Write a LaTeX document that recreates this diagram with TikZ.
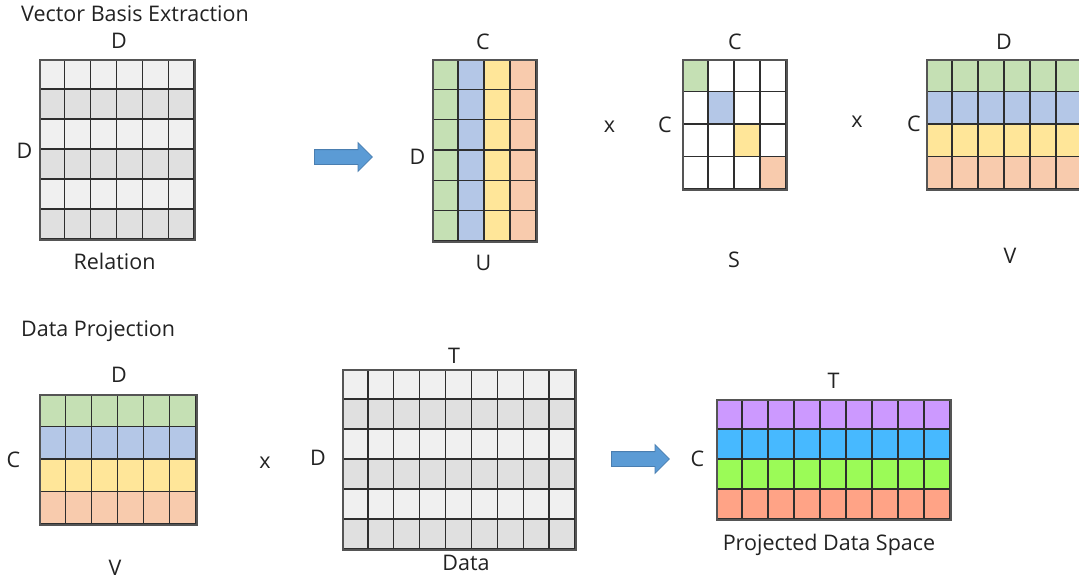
\documentclass[tikz,border=0pt]{standalone}
\usepackage{fontspec}
\setmainfont{Open Sans}
\usetikzlibrary{shapes.arrows}

\definecolor{txt}{HTML}{222222}
\definecolor{gridc}{HTML}{2E2E2E}
\definecolor{framec}{HTML}{555555}
\definecolor{g1}{HTML}{F0F0F0}
\definecolor{g2}{HTML}{E0E0E0}
\definecolor{g3}{HTML}{F0F0F0}
\definecolor{g4}{HTML}{E0E0E0}
\definecolor{g5}{HTML}{F0F0F0}
\definecolor{g6}{HTML}{E0E0E0}
\definecolor{rc1}{HTML}{C5E0B4}
\definecolor{rc2}{HTML}{B4C7E7}
\definecolor{rc3}{HTML}{FFE699}
\definecolor{rc4}{HTML}{F8CBAD}
\definecolor{pc1}{HTML}{CC99FF}
\definecolor{pc2}{HTML}{47B9FF}
\definecolor{pc3}{HTML}{9BFB57}
\definecolor{pc4}{HTML}{FFA386}
\definecolor{arrowfill}{HTML}{5B9BD5}
\definecolor{arrowedge}{HTML}{4A7EB0}

% horizontal bands: x0 y0 x1 y1 rows colour-prefix
\newcommand\rowbands[6]{%
  \foreach \k in {1,...,#5}{%
    \fill[fill=#6\k] (#1,{#2+(\k-1)*(#4-#2)/#5}) rectangle (#3,{#2+\k*(#4-#2)/#5});}}
% vertical bands: x0 y0 x1 y1 cols colour-prefix
\newcommand\colbands[6]{%
  \foreach \k in {1,...,#5}{%
    \fill[fill=#6\k] ({#1+(\k-1)*(#3-#1)/#5},#2) rectangle ({#1+\k*(#3-#1)/#5},#4);}}
% cell lines: x0 y0 x1 y1 cols rows
\newcommand\celllines[6]{%
  \foreach \k in {1,...,#5}{%
    \draw[gridline] ({#1+\k*(#3-#1)/#5},#2) -- ({#1+\k*(#3-#1)/#5},#4);}
  \foreach \k in {1,...,#6}{%
    \draw[gridline] (#1,{#2+\k*(#4-#2)/#6}) -- (#3,{#2+\k*(#4-#2)/#6});}}

\tikzset{
  gridline/.style={draw=gridc, line width=1.3pt},
  matframe/.style={draw=framec, line width=1.7pt, inner sep=0pt, anchor=north west},
  lbl/.style={font=\fontsize{21.5}{25}\selectfont, text=txt, inner sep=0pt, anchor=base},
  ttl/.style={lbl, anchor=base west},
  bigarrow/.style={single arrow, draw=arrowedge, fill=arrowfill, line width=0.8pt,
    inner xsep=0pt, inner ysep=7pt, single arrow head extend=7pt,
    single arrow tip angle=90, minimum height=58pt, anchor=tail}
}

\begin{document}
\begin{tikzpicture}[x=1pt,y=-1pt]
\useasboundingbox (0,0) rectangle (1079,582);
\clip (0,0) rectangle (1079,582);

% ---------- Vector basis extraction ----------
\node[ttl] (title1) at (21,21) {Vector Basis Extraction};

% relation matrix
\rowbands{39}{59}{194}{239}{6}{g}
\celllines{39}{59}{194}{239}{6}{6}
\node[matframe, minimum width=155pt, minimum height=180pt] (rel) at (39,59) {};
\node[lbl] (relD1) at (119,48) {D};
\node[lbl] (relD2) at (24.5,158) {D};
\node[lbl] (relname) at (114.5,269) {Relation};

\node[bigarrow] (arr1) at (314,157) {};

% U
\colbands{432}{59}{536}{241}{4}{rc}
\celllines{432}{59}{536}{241}{4}{6}
\node[matframe, minimum width=104pt, minimum height=182pt] (umat) at (432,59) {};
\node[lbl] (uC) at (483,49) {C};
\node[lbl] (uD) at (417.5,164) {D};
\node[lbl] (uname) at (483.5,270) {U};

\node[lbl] (times1) at (609.5,132) {x};

% S
\fill[white] (682,59) rectangle (786,189);
\foreach \k in {1,...,4}{%
  \fill[fill=rc\k] ({682+(\k-1)*26},{59+(\k-1)*32.5}) rectangle ({682+\k*26},{59+\k*32.5});}
\celllines{682}{59}{786}{189}{4}{4}
\node[matframe, minimum width=104pt, minimum height=130pt] (smat) at (682,59) {};
\node[lbl] (sC1) at (735,49) {C};
\node[lbl] (sC2) at (665,132) {C};
\node[lbl] (sname) at (734,267) {S};

\node[lbl] (times2) at (857,127) {x};

% V (transposed basis)
\rowbands{926}{59}{1082}{189}{4}{rc}
\celllines{926}{59}{1082}{189}{6}{4}
\node[matframe, minimum width=156pt, minimum height=130pt] (vtop) at (926,59) {};
\node[lbl] (vD) at (1004,49) {D};
\node[lbl] (vC) at (914,131) {C};
\node[lbl] (vname) at (1010,263) {V};

% ---------- Data projection ----------
\node[ttl] (title2) at (21,336) {Data Projection};

% V
\rowbands{39}{394}{196}{524}{4}{rc}
\celllines{39}{394}{196}{524}{6}{4}
\node[matframe, minimum width=157pt, minimum height=130pt] (vbot) at (39,394) {};
\node[lbl] (vbD) at (119,382) {D};
\node[lbl] (vbC) at (13.5,467) {C};
\node[lbl] (vbname) at (115,575) {V};

\node[lbl] (times3) at (265,468) {x};

% data matrix
\rowbands{342}{369}{575}{549}{6}{g}
\celllines{342}{369}{575}{549}{9}{6}
\node[matframe, minimum width=233pt, minimum height=180pt] (data) at (342,369) {};
\node[lbl] (dT) at (454,363) {T};
\node[lbl] (dD) at (318,465) {D};
\node[lbl] (dname) at (466,570) {Data};

\node[bigarrow] (arr2) at (611,459) {};

% projected data
\rowbands{716}{399}{950}{519}{4}{pc}
\celllines{716}{399}{950}{519}{9}{4}
\node[matframe, minimum width=234pt, minimum height=120pt] (proj) at (716,399) {};
\node[lbl] (pT) at (833.5,388) {T};
\node[lbl] (pC) at (697.5,466) {C};
\node[lbl] (pname) at (829,550) {Projected Data Space};
\end{tikzpicture}
\end{document}
